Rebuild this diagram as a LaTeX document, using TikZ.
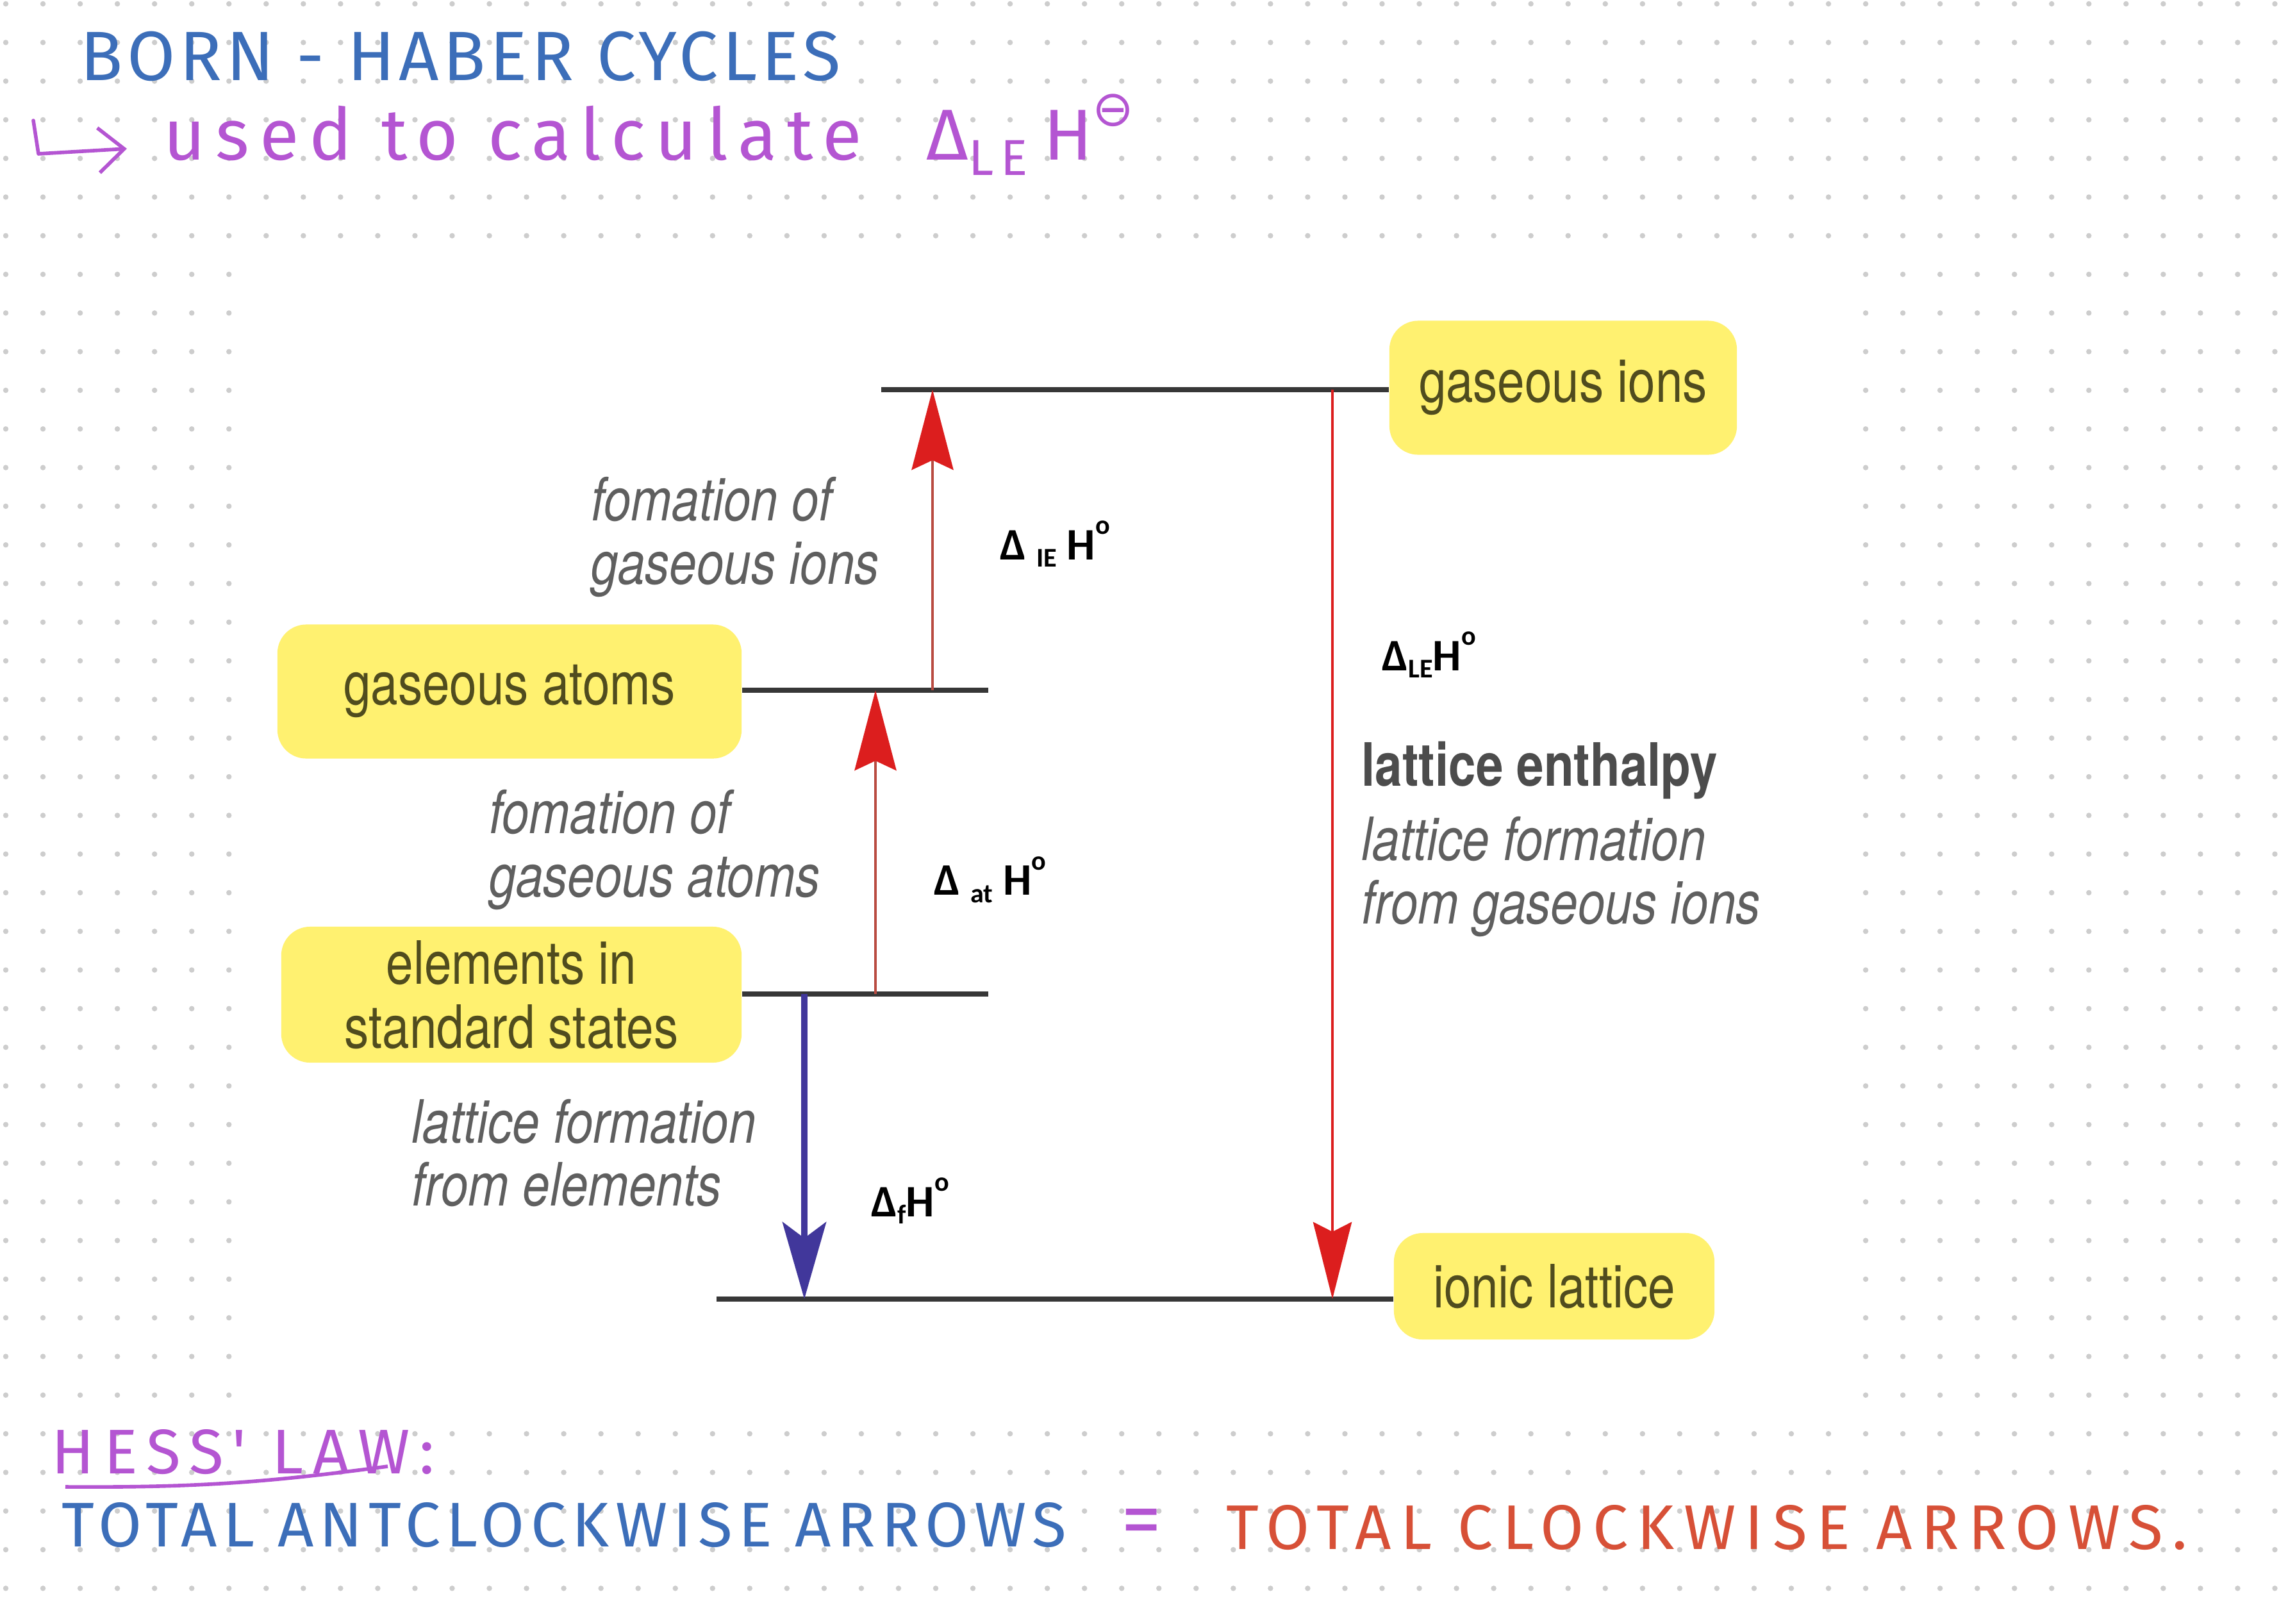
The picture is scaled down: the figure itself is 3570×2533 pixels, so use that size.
\documentclass[tikz,border=0pt]{standalone}
\usepackage{fontspec}
\setmainfont{TeX Gyre Heros}
\newfontfamily\labelfont[FakeStretch=0.82]{TeX Gyre Heros}
\newfontfamily\deltafont{Carlito}
\newfontfamily\handfont{Fira Sans}
\newfontfamily\symbfont{DejaVu Sans}
\usetikzlibrary{arrows.meta,positioning}

\definecolor{dotgray}{RGB}{205,205,205}
\definecolor{boxyellow}{RGB}{255,241,112}
\definecolor{boxtext}{RGB}{80,76,30}
\definecolor{notegray}{RGB}{95,95,95}
\definecolor{levelgray}{RGB}{55,55,55}
\definecolor{tipred}{RGB}{220,30,30}
\definecolor{shaftred}{RGB}{185,75,65}
\definecolor{tipblue}{RGB}{65,55,155}
\definecolor{penblue}{RGB}{60,110,185}
\definecolor{penpurple}{RGB}{180,85,210}
\definecolor{penred}{RGB}{215,80,55}

% Delta H symbol: #1 = gap, #2 = subscript
\newcommand{\enth}[2][]{Δ#1\raisebox{-0.35ex}{\fontsize{12}{12}\selectfont #2}#1H\raisebox{1.15ex}{\fontsize{12}{12}\selectfont o}}
% handwriting at size #1 with letter spacing #2
\newcommand{\pen}[2]{\handfont\fontsize{#1}{#1}\selectfont\addfontfeatures{LetterSpace=#2}}

\begin{document}
\begin{tikzpicture}[x=0.01cm, y=-0.01cm,
    levelline/.style={draw=levelgray, line width=2.3pt},
    statebox/.style={fill=boxyellow, rounded corners=0.45cm, text=boxtext, align=center, inner sep=0pt,
      font=\labelfont\fontsize{26.5}{28.5}\selectfont},
    note/.style={anchor=west, inner sep=0pt, align=left, text=notegray,
      font=\labelfont\itshape\fontsize{26.5}{28}\selectfont},
    enthlabel/.style={anchor=west, inner sep=0pt, font=\deltafont\bfseries\fontsize{20}{22}\selectfont},
    pen/.style={anchor=west, inner sep=0pt},
    redup/.style={draw=shaftred, line width=1.4pt, -{Stealth[length=12.5mm, width=6.5mm, inset=1.5mm, color=tipred]}},
    reddown/.style={draw=tipred, line width=1.4pt, -{Stealth[length=12mm, width=6mm, inset=1.5mm, color=tipred]}},
    bluedown/.style={draw=tipblue, line width=2.8pt, -{Stealth[length=12mm, width=6.8mm, inset=2.5mm, color=tipblue]}}]

  % Page and dotted paper
  \useasboundingbox (0,0) rectangle (3570,2533);
  \fill[white] (0,0) rectangle (3570,2533);
  \foreach \i in {0,...,61} {
    \foreach \j in {0,...,41} {
      \fill[dotgray] (9+58.04*\i, 6+60.3*\j) circle[radius=1.2pt];
    }
  }

  % Pasted diagram panel
  \fill[white] (367,400) rectangle (2880,2200);

  % Handwritten heading
  \node[pen, text=penblue, font=\pen{31}{6}] (title) at (125,88) {BORN - HABER CYCLES};
  \draw[penpurple, line width=1.6pt, line cap=round, line join=round,
    -{Straight Barb[length=4mm, width=7mm, line width=1.6pt]}] (52,188) -- (60,240) -- (198,232);
  \node[pen, text=penpurple, font=\pen{32}{14}] (usage) at (255,210)
    {used to calculate\hspace{0.9em}Δ\textsubscript{LE}\hspace{0.2em}H\raisebox{0.9ex}{\symbfont\fontsize{22}{22}\selectfont ⊖}};

  % State boxes
  \node[statebox, minimum width=5.42cm, minimum height=2.09cm] (ions) at (2439,605) {gaseous ions};
  \node[statebox, minimum width=7.24cm, minimum height=2.09cm] (atoms) at (795,1079) {gaseous atoms};
  \node[statebox, minimum width=7.18cm, minimum height=2.12cm] (elements) at (798,1552) {elements in\\standard states};
  \node[statebox, minimum width=5.00cm, minimum height=1.66cm] (lattice) at (2425,2007) {ionic lattice};

  % Energy levels
  \coordinate (ionsL) at (1375,608);
  \coordinate (atomsR) at (1542,1077);
  \coordinate (elemR) at (1542,1551);
  \coordinate (latL) at (1118,2027);
  \draw[levelline] (ionsL) -- (ionsL -| ions.west);
  \draw[levelline] (atomsR -| atoms.east) -- (atomsR);
  \draw[levelline] (elemR -| elements.east) -- (elemR);
  \draw[levelline] (latL) -- (latL -| lattice.west);

  % Arrow ends
  \coordinate (ieFoot) at (1455,1077);
  \coordinate (ieHead) at (ieFoot |- ionsL);
  \coordinate (atFoot) at (1366,1551);
  \coordinate (atHead) at (atFoot |- atomsR);
  \coordinate (fTail) at (1255,1551);
  \coordinate (fHead) at (fTail |- latL);
  \coordinate (leTail) at (2079,608);
  \coordinate (leHead) at (leTail |- latL);

  \draw[redup] (ieFoot) -- (ieHead);
  \draw[redup] (atFoot) -- (atHead);
  \draw[bluedown] (fTail) -- (fHead);
  \draw[reddown] (leTail) -- (leHead);

  % Step notes
  \node[note] (ionsnote) at (922,838) {fomation of\\gaseous ions};
  \node[note] (atomsnote) at (763,1326) {fomation of\\gaseous atoms};
  \node[note] (elemnote) at (642,1799) {lattice formation\\from elements};
  \node[anchor=west, inner sep=0pt, text=notegray!80!black, font=\labelfont\bfseries\fontsize{26.5}{28}\selectfont]
    (lename) at (2124,1202) {lattice enthalpy};
  \node[note] (lenote) at (2124,1368) {lattice formation\\from gaseous ions};

  % Enthalpy symbols
  \node[enthlabel] (ie) at (1560,849) {\enth[\ ]{IE}};
  \node[enthlabel] (at) at (1457,1373) {\enth[\ ]{at}};
  \node[enthlabel] (form) at (1359,1874) {\enth{f}};
  \node[enthlabel] (le) at (2156,1022) {\enth{LE}};

  % Handwritten summary
  \node[pen, text=penpurple, font=\pen{28}{14.7}] (hess) at (80,2266) {HESS' LAW:};
  \draw[penpurple, line width=1.6pt] (102,2320) to[bend right=4] (605,2288);
  \node[pen, text=penblue, font=\pen{28}{9.5}] (anti) at (96,2380) {TOTAL ANTCLOCKWISE ARROWS};
  \node[text=penpurple, inner sep=0pt, font=\pen{36}{0}] (equals) at (1781,2384) {=};
  \node[pen, text=penred, font=\pen{28}{14.5}] (clock) at (1913,2384) {TOTAL CLOCKWISE ARROWS.};

\end{tikzpicture}
\end{document}
